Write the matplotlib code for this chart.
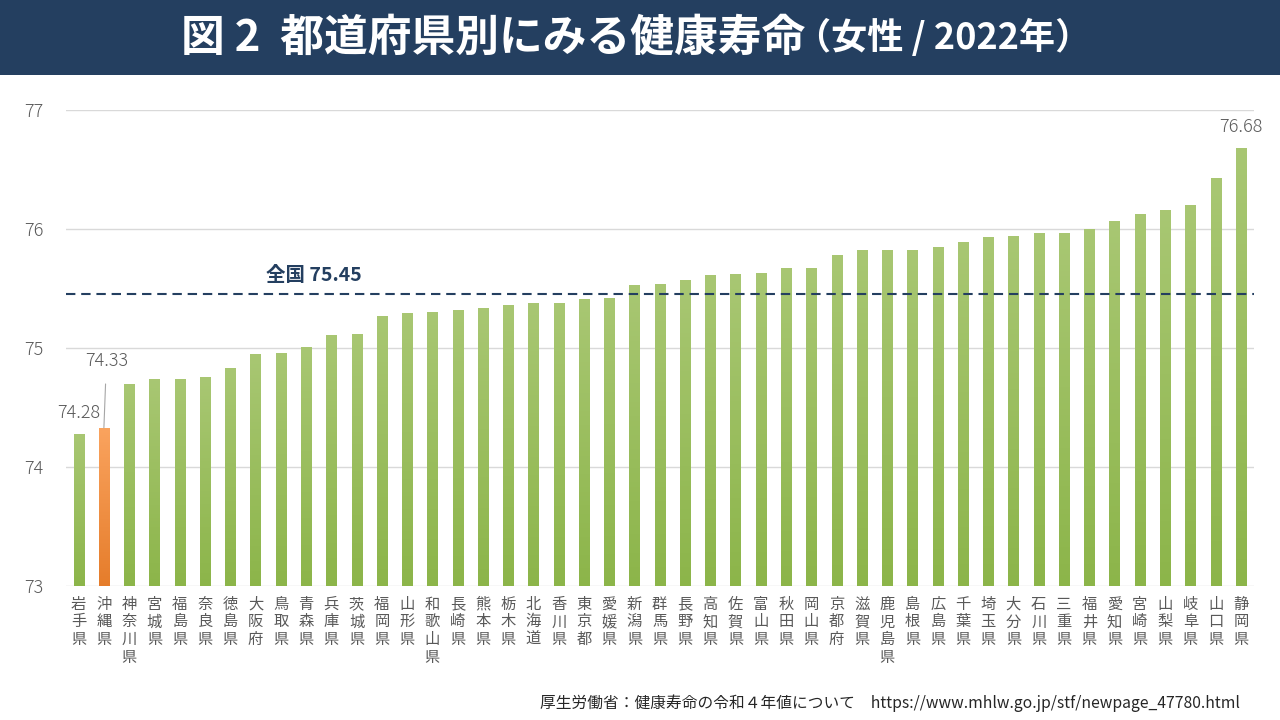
import matplotlib
matplotlib.use("Agg")
import matplotlib.pyplot as plt
import numpy as np
from matplotlib.patches import Rectangle

plt.rcParams['font.family'] = ['Noto Sans CJK JP', 'DejaVu Sans']

prefectures = ["岩手県", "沖縄県", "神奈川県", "宮城県", "福島県", "奈良県", "徳島県", "大阪府",
               "鳥取県", "青森県", "兵庫県", "茨城県", "福岡県", "山形県", "和歌山県", "長崎県",
               "熊本県", "栃木県", "北海道", "香川県", "東京都", "愛媛県", "新潟県", "群馬県",
               "長野県", "高知県", "佐賀県", "富山県", "秋田県", "岡山県", "京都府", "滋賀県",
               "鹿児島県", "島根県", "広島県", "千葉県", "埼玉県", "大分県", "石川県", "三重県",
               "福井県", "愛知県", "宮崎県", "山梨県", "岐阜県", "山口県", "静岡県"]
values = [74.28, 74.33, 74.70, 74.74, 74.74, 74.76, 74.83, 74.95,
          74.96, 75.01, 75.11, 75.12, 75.27, 75.29, 75.30, 75.32,
          75.34, 75.36, 75.38, 75.38, 75.41, 75.42, 75.53, 75.54,
          75.57, 75.61, 75.62, 75.63, 75.67, 75.67, 75.78, 75.82,
          75.82, 75.82, 75.85, 75.89, 75.93, 75.94, 75.97, 75.97,
          76.00, 76.07, 76.13, 76.16, 76.20, 76.43, 76.68]
national_avg = 75.45
highlight = "沖縄県"
yticks = [73, 74, 75, 76, 77]

W, H = 1280, 720
fig = plt.figure(figsize=(12.8, 7.2), dpi=100)
fig.patch.set_facecolor("white")

# title bar
fig.add_artist(Rectangle((0, 1 - 75 / H), 1, 75 / H, transform=fig.transFigure,
                         facecolor="#243f60", edgecolor="none", zorder=0))
fig.text(181 / W, 1 - 38 / H, "図 2  都道府県別にみる健康寿命", color="white",
         fontsize=31.5, fontweight="bold", ha="left", va="center")
fig.text(795 / W, 1 - 38 / H, "（女性 / 2022年）", color="white",
         fontsize=26, fontweight="bold", ha="left", va="center")

ax = fig.add_axes([66 / W, 1 - 586 / H, (1253.5 - 66) / W, (586 - 110) / H])
x = np.arange(len(prefectures))

bars = ax.bar(x, [v - yticks[0] for v in values], bottom=yticks[0], width=0.4,
              color="#9bbb59", edgecolor="none", zorder=3)

# gradient fill clipped to each bar
green = np.array([[0.66, 0.78, 0.45], [0.55, 0.71, 0.29]])
orange = np.array([[0.98, 0.64, 0.37], [0.90, 0.49, 0.17]])
for b, name in zip(bars, prefectures):
    c = orange if name == highlight else green
    grad = np.linspace(0, 1, 64)[:, None, None]
    img = c[0][None, None, :] * (1 - grad) + c[1][None, None, :] * grad
    bx, by, bw, bh = b.get_x(), b.get_y(), b.get_width(), b.get_height()
    im = ax.imshow(img, extent=[bx, bx + bw, by, by + bh], origin="upper",
                   aspect="auto", zorder=3.5)
    im.set_clip_path(b)
ax.set_xlim(-0.5, len(prefectures) - 0.5)
ax.set_ylim(yticks[0], yticks[-1])

ax.set_yticks(yticks)
ax.set_yticklabels([str(t) for t in yticks])
ax.yaxis.grid(True, color="#d9d9d9", linewidth=1.0, zorder=0)
ax.set_axisbelow(True)
for s in ax.spines.values():
    s.set_visible(False)
ax.tick_params(axis="y", length=0, labelsize=13, labelcolor="#595959", pad=16)
ax.tick_params(axis="x", length=0, pad=7)
ax.set_xticks(x)
ax.set_xticklabels(["\n".join(p) for p in prefectures], fontsize=11,
                   color="#595959", linespacing=1.05, va="top")
for lab in ax.get_yticklabels():
    lab.set_fontweight("light")

# national average
ax.axhline(national_avg, color="#243f60", linestyle=(0, (4.5, 2.8)), linewidth=1.5, zorder=4)
ax.text(9.3, national_avg + 0.16, f"全国 {national_avg:.2f}", color="#243f60",
        fontsize=14, fontweight="bold", ha="center", va="center")

# value labels
ax.text(x[0], values[0] + 0.17, f"{values[0]:.2f}", ha="center", va="center",
        fontsize=13, color="#595959", fontweight="light", zorder=5)
i_hl = prefectures.index(highlight)
ax.annotate(f"{values[i_hl]:.2f}", xy=(x[i_hl], values[i_hl]),
            xytext=(x[i_hl] + 0.1, values[i_hl] + 0.56), ha="center", va="center",
            fontsize=13, color="#595959", fontweight="light", zorder=5,
            arrowprops=dict(arrowstyle="-", color="#a6a6a6", lw=0.8,
                            shrinkA=8, shrinkB=0))
ax.text(x[-1], values[-1] + 0.18, f"{values[-1]:.2f}", ha="center", va="center",
        fontsize=13, color="#595959", fontweight="light", zorder=5)

fig.text(1240 / W, 1 - 703 / H,
         "厚生労働省：健康寿命の令和４年値について　https://www.mhlw.go.jp/stf/newpage_47780.html",
         ha="right", va="center", fontsize=11.3, color="#262626")

fig.savefig("out.png", dpi=100, facecolor="white")
